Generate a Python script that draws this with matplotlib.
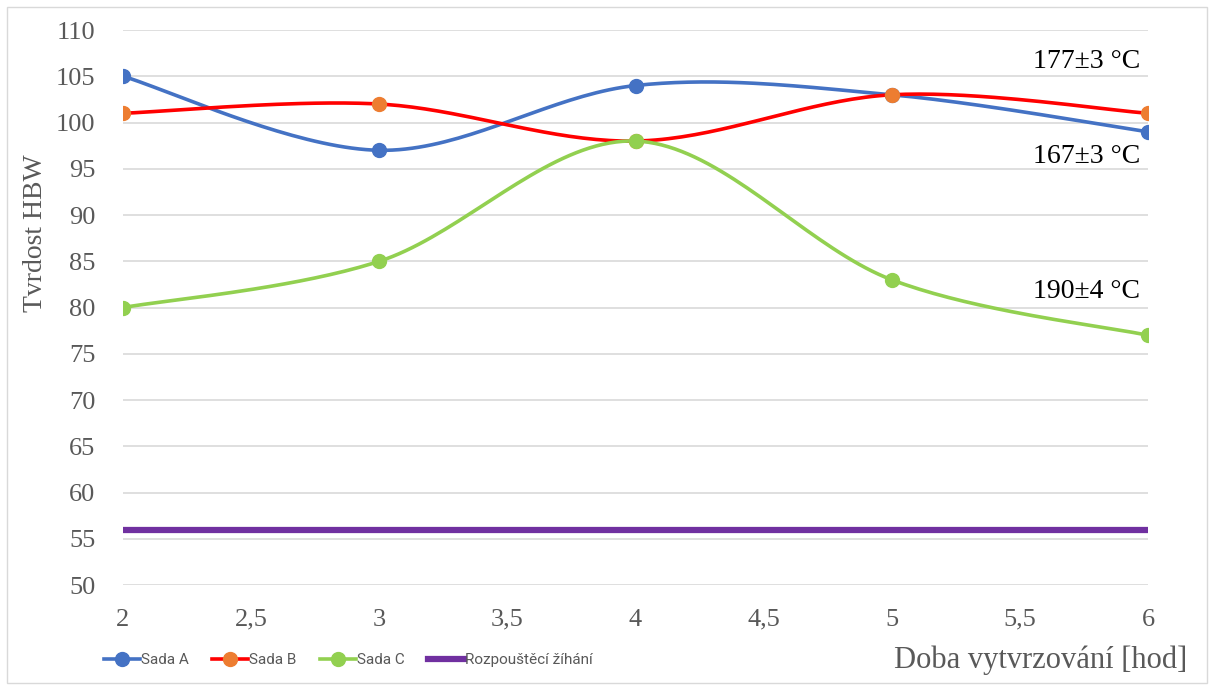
import matplotlib.pyplot as plt
import numpy as np
from matplotlib.patches import Rectangle

hours = [2, 3, 4, 5, 6]
sada_a = [105, 97, 104, 103, 99]
sada_b = [101, 102, 98, 103, 101]
sada_c = [80, 85, 98, 83, 77]
annealing_x = [2, 6]
annealing_y = [56, 56]
labels = ["177±3 °C", "167±3 °C", "190±4 °C"]
label_pos = [(6, 106.6), (6, 96.3), (6, 81.7)]


def smooth(x, y, n=40):
    # Excel-style smoothed line: Catmull-Rom Bezier segments
    x = np.asarray(x, float)
    y = np.asarray(y, float)
    pts = np.column_stack([x, y])
    out = []
    for i in range(len(pts) - 1):
        p0 = pts[i - 1] if i > 0 else pts[i]
        p1 = pts[i]
        p2 = pts[i + 1]
        p3 = pts[i + 2] if i + 2 < len(pts) else pts[i + 1]
        c1 = p1 + (p2 - p0) / 6
        c2 = p2 - (p3 - p1) / 6
        t = np.linspace(0, 1, n)[:, None]
        seg = ((1 - t) ** 3 * p1 + 3 * (1 - t) ** 2 * t * c1
               + 3 * (1 - t) * t ** 2 * c2 + t ** 3 * p2)
        out.append(seg if i == 0 else seg[1:])
    out = np.vstack(out)
    return out[:, 0], out[:, 1]


fig = plt.figure(figsize=(12.14, 6.9), dpi=100)
ax = fig.add_axes([0.1013, 0.152, 0.8444, 0.8045])

gray = "#595959"
series = [
    (sada_a, "#4472C4", "#4472C4", "Sada A"),
    (sada_b, "#FF0000", "#ED7D31", "Sada B"),
    (sada_c, "#92D050", "#92D050", "Sada C"),
]
handles = []
for vals, lc, mc, name in series:
    sx, sy = smooth(hours, vals)
    ax.plot(sx, sy, color=lc, lw=2.6, zorder=3)
    ax.plot(hours, vals, "o", color=mc, ms=10, zorder=4)
    h, = ax.plot([], [], color=lc, lw=2.6, marker="o", ms=10,
                 markerfacecolor=mc, markeredgecolor=mc, label=name)
    handles.append(h)

h, = ax.plot(annealing_x, annealing_y, color="#7030A0", lw=4.5, zorder=3,
             label="Rozpouštěcí žíhání")
handles.append(h)

for txt, (x, y) in zip(labels, label_pos):
    ax.text(x - 0.03, y, txt, ha="right", va="center", fontsize=20,
            family="Liberation Serif", color="black")

ax.set_xlim(2, 6)
ax.set_ylim(50, 110)
ax.set_yticks(np.arange(50, 111, 5))
ax.set_xticks(np.arange(2, 6.01, 0.5))
ax.set_xticklabels(["2", "2,5", "3", "3,5", "4", "4,5", "5", "5,5", "6"])
ax.grid(axis="y", color="#D9D9D9", lw=1.2, zorder=0)
ax.set_axisbelow(True)
for s in ax.spines.values():
    s.set_visible(False)
ax.tick_params(length=0, labelsize=19, labelcolor=gray)
ax.tick_params(axis="y", pad=20)
ax.tick_params(axis="x", pad=17)
for lab in ax.get_xticklabels() + ax.get_yticklabels():
    lab.set_family("Liberation Serif")

ax.set_ylabel("Tvrdost HBW", family="Liberation Serif", fontsize=20,
              color=gray)
ax.yaxis.set_label_coords(-0.073, 0.634)
fig.text(0.978, 0.043, "Doba vytvrzování [hod]", ha="right", va="center",
         family="Liberation Serif", fontsize=22, color=gray)

fig.legend(handles=handles, loc="center left", bbox_to_anchor=(0.074, 0.043),
           ncol=4, frameon=False, labelcolor=gray,
           handlelength=2.4, handletextpad=0.05, columnspacing=1.5,
           prop={"family": "Roboto", "size": 11})

fig.patches.append(Rectangle((0.006, 0.01), 0.988, 0.98, transform=fig.transFigure,
                             fill=False, edgecolor="#D9D9D9", lw=1))

fig.savefig("out.png", dpi=100)
